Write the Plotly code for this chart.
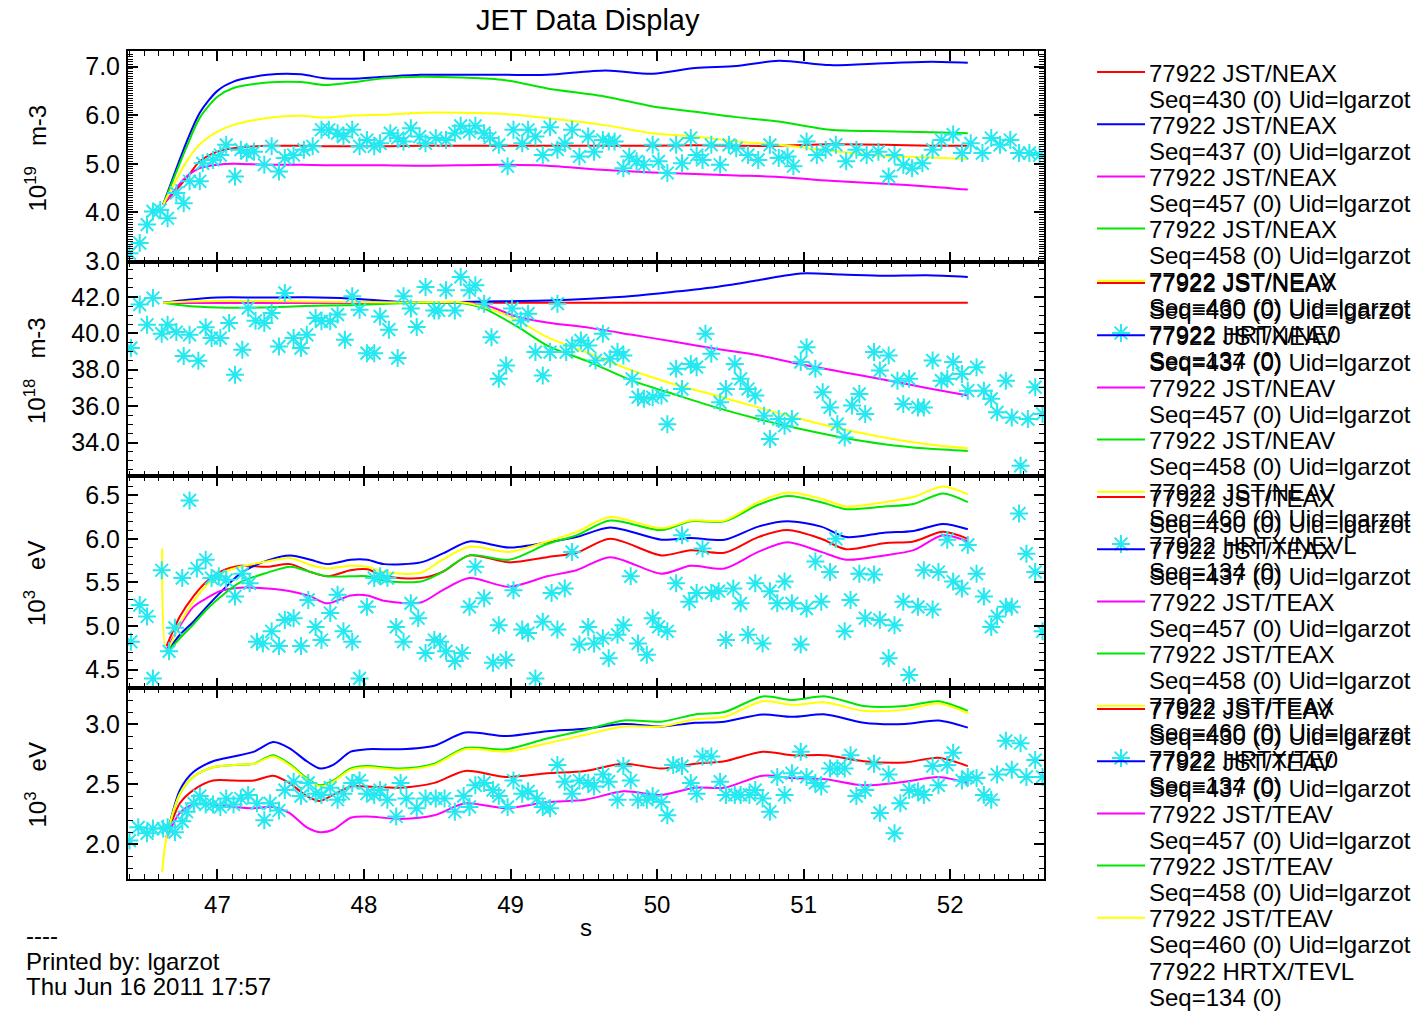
import plotly.graph_objects as go

W, H = 1417, 1012
FONT = "Liberation Sans, Arial, Helvetica, sans-serif"

# ---------------- data ----------------
# Panel 1 : JST/NEAX  (10^19 m-3)
t1 = [46.63, 46.79, 46.88, 47.0, 47.11, 47.34, 47.57, 47.73, 47.91, 48.14, 48.39,
      48.94, 49.25, 49.65, 49.97, 50.26, 50.54, 50.83, 51.18, 51.55, 51.87, 52.12]
neax_430 = [4.16, 4.71, 5.05, 5.25, 5.32, 5.37, 5.37, 5.36, 5.36, 5.36, 5.37,
            5.37, 5.37, 5.37, 5.37, 5.38, 5.37, 5.37, 5.40, 5.39, 5.37, 5.37]
neax_437 = [4.16, 5.45, 6.05, 6.50, 6.69, 6.83, 6.84, 6.76, 6.75, 6.79, 6.83,
            6.83, 6.83, 6.92, 6.85, 6.97, 7.01, 7.12, 7.03, 7.07, 7.10, 7.08]
neax_457 = [4.16, 4.74, 4.91, 4.98, 5.00, 4.98, 4.98, 4.97, 4.97, 4.97, 4.96,
            4.98, 4.96, 4.87, 4.82, 4.79, 4.76, 4.73, 4.65, 4.59, 4.53, 4.47]
neax_458 = [4.16, 5.35, 5.95, 6.38, 6.56, 6.67, 6.68, 6.62, 6.67, 6.76, 6.79,
            6.73, 6.55, 6.38, 6.18, 6.07, 5.96, 5.87, 5.70, 5.67, 5.65, 5.63]
neax_460 = [4.16, 5.05, 5.40, 5.66, 5.80, 5.94, 5.99, 5.95, 5.99, 6.01, 6.05,
            6.03, 5.94, 5.79, 5.63, 5.56, 5.46, 5.39, 5.27, 5.16, 5.13, 5.10]
ne0_t = [46.40, 46.47, 46.52, 46.56, 46.61, 46.66, 46.72, 46.77, 46.81, 46.88, 46.90, 46.97,
         47.02, 47.06, 47.12, 47.16, 47.20, 47.25, 47.32, 47.37, 47.42, 47.46, 47.52, 47.59,
         47.65, 47.71, 47.76, 47.82, 47.86, 47.92, 47.97, 48.02, 48.07, 48.11, 48.18, 48.23,
         48.27, 48.32, 48.38, 48.42, 48.49, 48.56, 48.62, 48.66, 48.72, 48.76, 48.82, 48.86,
         48.92, 48.98, 49.02, 49.08, 49.12, 49.17, 49.22, 49.27, 49.32, 49.37, 49.42, 49.47,
         49.53, 49.57, 49.63, 49.67, 49.71, 49.77, 49.81, 49.86, 49.91, 49.97, 50.01, 50.07,
         50.13, 50.17, 50.23, 50.27, 50.31, 50.37, 50.43, 50.49, 50.54, 50.62, 50.69, 50.77,
         50.83, 50.89, 50.93, 51.02, 51.09, 51.15, 51.22, 51.29, 51.36, 51.43, 51.51, 51.58,
         51.62, 51.68, 51.74, 51.81, 51.88, 51.94, 52.02, 52.08, 52.14, 52.22, 52.28, 52.34,
         52.41, 52.47, 52.54, 52.61]
ne0_v = [3.16, 3.37, 3.75, 4.02, 4.05, 3.88, 4.40, 4.19, 4.64, 4.64, 5.01, 5.08,
         5.18, 5.39, 4.74, 5.29, 5.22, 5.25, 4.98, 5.36, 4.84, 5.12, 5.18, 5.29,
         5.36, 5.70, 5.70, 5.63, 5.56, 5.70, 5.36, 5.49, 5.36, 5.42, 5.63, 5.53,
         5.46, 5.73, 5.56, 5.42, 5.53, 5.49, 5.63, 5.78, 5.66, 5.78, 5.63, 5.53,
         5.39, 4.95, 5.70, 5.42, 5.70, 5.56, 5.18, 5.75, 5.29, 5.42, 5.70, 5.15,
         5.56, 5.25, 5.49, 5.46, 5.46, 4.91, 5.15, 5.05, 4.98, 5.39, 5.05, 4.81,
         5.39, 5.01, 5.53, 5.18, 5.08, 5.39, 4.98, 5.39, 5.32, 5.18, 5.08, 5.39,
         5.12, 5.15, 4.95, 5.46, 5.18, 5.29, 5.39, 5.05, 5.29, 5.18, 5.25, 4.74,
         5.18, 4.98, 4.91, 5.01, 5.29, 5.49, 5.60, 5.22, 5.42, 5.22, 5.53, 5.39,
         5.49, 5.22, 5.22, 5.18]

# Panel 2 : JST/NEAV  (10^18 m-3)
t2 = [46.63, 46.8, 47.0, 47.3, 47.6, 47.9, 48.25, 48.5, 48.65, 48.82, 49.05,
      49.25, 49.54, 49.83, 50.11, 50.4, 50.69, 50.98, 51.26, 51.55, 51.84, 52.12]
neav_430 = [41.68] * 22
neav_437 = [41.68, 41.85, 41.97, 41.97, 41.98, 41.92, 41.72, 41.72, 41.72, 41.75, 41.77,
            41.80, 41.90, 42.05, 42.28, 42.55, 42.92, 43.29, 43.23, 43.16, 43.19, 43.10]
neav_457 = [41.68, 41.68, 41.68, 41.68, 41.68, 41.68, 41.68, 41.68, 41.68, 41.57, 40.90,
            40.60, 40.30, 39.92, 39.55, 39.15, 38.80, 38.30, 37.88, 37.45, 37.00, 36.58]
neav_458 = [41.68, 41.50, 41.42, 41.42, 41.50, 41.55, 41.65, 41.68, 41.68, 41.36, 40.35,
            39.33, 38.42, 37.40, 36.67, 35.93, 35.29, 34.74, 34.28, 33.91, 33.67, 33.54]
neav_460 = [41.68, 41.75, 41.78, 41.78, 41.75, 41.72, 41.70, 41.72, 41.72, 41.45, 40.71,
            39.79, 38.88, 37.96, 37.22, 36.58, 35.93, 35.29, 34.74, 34.28, 33.91, 33.69]
nevl_t = [46.41, 46.47, 46.52, 46.56, 46.62, 46.66, 46.72, 46.77, 46.81, 46.87, 46.92, 46.96,
          47.02, 47.08, 47.12, 47.17, 47.21, 47.26, 47.32, 47.37, 47.42, 47.46, 47.52, 47.57,
          47.61, 47.67, 47.71, 47.77, 47.82, 47.87, 47.92, 47.97, 48.02, 48.07, 48.11, 48.17,
          48.23, 48.27, 48.32, 48.36, 48.42, 48.48, 48.51, 48.56, 48.62, 48.66, 48.72, 48.76,
          48.82, 48.87, 48.92, 48.97, 49.01, 49.07, 49.12, 49.17, 49.22, 49.27, 49.32, 49.38,
          49.42, 49.48, 49.53, 49.58, 49.63, 49.68, 49.73, 49.77, 49.83, 49.87, 49.91, 49.97,
          50.03, 50.07, 50.13, 50.17, 50.23, 50.27, 50.33, 50.37, 50.43, 50.47, 50.53, 50.57,
          50.62, 50.67, 50.73, 50.77, 50.83, 50.87, 50.92, 50.98, 51.02, 51.08, 51.13, 51.18,
          51.23, 51.28, 51.33, 51.38, 51.42, 51.48, 51.52, 51.58, 51.64, 51.68, 51.72, 51.78,
          51.82, 51.88, 51.94, 51.98, 52.02, 52.08, 52.12, 52.18, 52.23, 52.28, 52.32, 52.38,
          52.42, 52.48, 52.53, 52.58, 52.63]
nevl_v = [39.19, 41.58, 40.47, 41.94, 39.98, 40.47, 40.07, 38.76, 39.92, 38.49, 40.33, 39.74,
          39.74, 40.57, 37.72, 39.10, 41.39, 40.69, 40.57, 41.12, 39.28, 42.22, 39.74, 39.19,
          39.92, 40.84, 40.66, 40.66, 41.03, 39.65, 42.04, 41.30, 38.91, 38.91, 40.93, 40.20,
          38.64, 42.04, 41.36, 40.35, 42.55, 41.26, 41.26, 42.37, 41.26, 43.10, 42.37, 42.64,
          41.63, 39.79, 37.50, 38.23, 41.36, 40.71, 41.08, 38.97, 37.68, 38.97, 41.63, 38.97,
          39.33, 39.61, 39.33, 38.51, 39.98, 38.60, 38.97, 38.78, 37.50, 36.49, 36.40, 36.49,
          36.58, 35.01, 38.05, 36.94, 38.32, 38.14, 39.98, 38.88, 36.21, 36.94, 38.32, 37.50,
          36.94, 36.58, 35.47, 34.19, 35.29, 34.92, 35.29, 38.42, 39.24, 38.05, 36.76, 35.93,
          35.01, 34.28, 36.03, 36.67, 35.57, 38.97, 37.96, 38.78, 37.40, 36.12, 37.50, 35.93,
          35.93, 38.51, 37.40, 37.50, 38.42, 37.77, 36.85, 38.14, 36.85, 36.40, 35.66, 37.40,
          35.38, 32.72, 35.29, 37.04, 35.57]

# Panel 3 : JST/TEAX  (10^3 eV)
t3 = [46.653, 46.744, 46.836, 46.927, 47.018, 47.155, 47.338, 47.498, 47.635, 47.749,
      47.909, 48.023, 48.137, 48.388, 48.535, 48.72, 48.99, 49.25, 49.45, 49.68, 50.03,
      50.23, 50.46, 50.69, 50.89, 51.12, 51.29, 51.55, 51.75, 51.95, 52.12]
teax_430 = [4.77, 5.11, 5.34, 5.51, 5.62, 5.69, 5.68, 5.71, 5.62, 5.57, 5.64, 5.65, 5.57, 5.55,
            5.62, 5.81, 5.73, 5.79, 5.84, 6.00, 5.81, 5.87, 5.84, 6.02, 6.10, 6.00, 5.88, 5.95,
            5.97, 6.08, 6.00]
teax_437 = [4.69, 4.90, 5.05, 5.22, 5.38, 5.60, 5.75, 5.81, 5.76, 5.71, 5.76, 5.76, 5.71, 5.73,
            5.83, 5.97, 5.90, 5.96, 6.02, 6.13, 5.99, 6.01, 5.99, 6.14, 6.20, 6.14, 6.02, 6.07,
            6.09, 6.17, 6.11]
teax_457 = [4.73, 5.00, 5.22, 5.32, 5.40, 5.44, 5.43, 5.40, 5.34, 5.26, 5.35, 5.35, 5.29, 5.27,
            5.41, 5.55, 5.45, 5.57, 5.64, 5.79, 5.60, 5.69, 5.66, 5.85, 5.96, 5.85, 5.76, 5.81,
            5.87, 6.04, 5.97]
teax_458 = [4.69, 4.86, 5.02, 5.19, 5.33, 5.50, 5.61, 5.68, 5.62, 5.57, 5.57, 5.57, 5.52, 5.51,
            5.62, 5.81, 5.76, 5.94, 6.04, 6.21, 6.10, 6.20, 6.20, 6.39, 6.49, 6.42, 6.34, 6.37,
            6.40, 6.52, 6.42]
t3_460 = [46.623] + t3
teax_460 = [5.89, 4.72, 5.03, 5.28, 5.47, 5.60, 5.68, 5.74, 5.78, 5.70, 5.66, 5.69, 5.68, 5.62,
            5.61, 5.76, 5.91, 5.85, 5.97, 6.08, 6.25, 6.12, 6.21, 6.21, 6.42, 6.53, 6.46, 6.37,
            6.42, 6.48, 6.60, 6.51]
te0_t = [46.41, 46.47, 46.52, 46.56, 46.62, 46.67, 46.71, 46.76, 46.81, 46.86, 46.92, 46.96,
         47.01, 47.06, 47.12, 47.17, 47.22, 47.27, 47.31, 47.37, 47.42, 47.46, 47.52, 47.57,
         47.62, 47.67, 47.71, 47.77, 47.82, 47.86, 47.92, 47.97, 48.02, 48.07, 48.11, 48.16,
         48.22, 48.27, 48.32, 48.37, 48.42, 48.48, 48.52, 48.56, 48.62, 48.67, 48.72, 48.76,
         48.82, 48.88, 48.92, 48.97, 49.02, 49.08, 49.12, 49.17, 49.22, 49.28, 49.32, 49.37,
         49.42, 49.47, 49.53, 49.57, 49.63, 49.67, 49.73, 49.77, 49.82, 49.87, 49.93, 49.97,
         50.01, 50.07, 50.13, 50.17, 50.22, 50.27, 50.31, 50.37, 50.42, 50.47, 50.52, 50.57,
         50.62, 50.67, 50.72, 50.77, 50.82, 50.87, 50.92, 50.98, 51.02, 51.08, 51.12, 51.18,
         51.22, 51.28, 51.32, 51.38, 51.42, 51.48, 51.52, 51.58, 51.62, 51.68, 51.72, 51.78,
         51.82, 51.88, 51.92, 51.98, 52.02, 52.08, 52.12, 52.18, 52.23, 52.28, 52.32, 52.38,
         52.42, 52.47, 52.52, 52.58, 52.63]
te0_v = [4.82, 5.24, 5.11, 4.40, 5.64, 4.71, 4.98, 5.55, 6.44, 5.66, 5.76, 5.55,
         5.57, 5.53, 5.34, 5.60, 5.49, 4.82, 4.80, 4.94, 4.77, 5.07, 5.09, 4.77,
         5.30, 4.99, 4.84, 5.15, 5.36, 4.94, 4.82, 4.40, 5.22, 5.55, 5.57, 5.55,
         4.99, 4.82, 5.26, 5.09, 4.69, 4.84, 4.82, 4.71, 4.60, 4.69, 5.22, 5.68,
         5.32, 4.58, 5.01, 4.61, 5.41, 4.96, 4.92, 4.40, 5.05, 5.38, 4.96, 5.43,
         5.85, 4.79, 4.99, 4.80, 4.86, 4.63, 4.90, 5.01, 5.57, 4.80, 4.67, 5.09,
         4.99, 4.94, 5.49, 6.04, 5.28, 5.38, 5.89, 5.38, 5.40, 4.84, 5.43, 5.26,
         4.90, 5.49, 4.80, 5.40, 5.26, 5.51, 5.26, 4.79, 5.20, 5.74, 5.28, 5.62,
         6.00, 4.94, 5.30, 5.60, 5.09, 5.59, 5.07, 4.63, 5.01, 5.28, 4.44, 5.22,
         5.64, 5.19, 5.62, 5.99, 5.51, 5.43, 5.93, 5.60, 5.34, 4.99, 5.11, 5.22,
         5.22, 6.29, 5.83, 5.62, 4.94]

# Panel 4 : JST/TEAV  (10^3 eV)
t4 = [46.653, 46.744, 46.836, 46.97, 47.11, 47.25, 47.38, 47.49, 47.61, 47.70, 47.79,
      47.91, 48.02, 48.25, 48.48, 48.69, 48.97, 49.25, 49.51, 49.77, 50.03, 50.26, 50.46,
      50.72, 50.92, 51.15, 51.41, 51.69, 51.92, 52.12]
teav_430 = [2.06, 2.34, 2.45, 2.53, 2.53, 2.53, 2.57, 2.51, 2.40, 2.36, 2.41, 2.48, 2.48, 2.47,
            2.51, 2.61, 2.56, 2.59, 2.61, 2.67, 2.63, 2.67, 2.69, 2.77, 2.74, 2.74, 2.69, 2.68,
            2.72, 2.65]
teav_437 = [2.06, 2.45, 2.60, 2.69, 2.73, 2.77, 2.85, 2.80, 2.69, 2.63, 2.66, 2.77, 2.79, 2.79,
            2.82, 2.93, 2.90, 2.94, 2.96, 3.00, 2.98, 3.01, 3.02, 3.08, 3.06, 3.08, 3.01, 3.00,
            3.03, 2.97]
teav_457 = [2.05, 2.26, 2.33, 2.33, 2.31, 2.30, 2.31, 2.26, 2.14, 2.10, 2.12, 2.22, 2.23, 2.21,
            2.24, 2.34, 2.30, 2.35, 2.37, 2.44, 2.41, 2.47, 2.47, 2.57, 2.55, 2.54, 2.49, 2.52,
            2.56, 2.51]
teav_458 = [2.06, 2.42, 2.56, 2.64, 2.66, 2.67, 2.74, 2.67, 2.55, 2.49, 2.53, 2.63, 2.65, 2.63,
            2.67, 2.80, 2.79, 2.88, 2.95, 3.03, 3.02, 3.08, 3.10, 3.23, 3.20, 3.23, 3.15, 3.15,
            3.19, 3.11]
t4_460 = [46.623] + t4
teav_460 = [1.77, 2.06, 2.42, 2.56, 2.64, 2.66, 2.67, 2.73, 2.66, 2.54, 2.48, 2.52, 2.62, 2.64,
            2.62, 2.66, 2.79, 2.77, 2.84, 2.91, 2.98, 2.98, 3.04, 3.06, 3.19, 3.16, 3.18, 3.11,
            3.12, 3.17, 3.09]
tevl_t = [46.40, 46.46, 46.52, 46.56, 46.63, 46.66, 46.71, 46.76, 46.79, 46.84, 46.88, 46.92,
          46.97, 47.02, 47.06, 47.11, 47.16, 47.21, 47.27, 47.32, 47.36, 47.42, 47.46, 47.52,
          47.57, 47.62, 47.67, 47.71, 47.77, 47.82, 47.86, 47.92, 47.97, 48.02, 48.07, 48.11,
          48.16, 48.22, 48.25, 48.29, 48.36, 48.42, 48.49, 48.55, 48.62, 48.68, 48.72, 48.76,
          48.82, 48.88, 48.92, 48.98, 49.02, 49.08, 49.12, 49.18, 49.22, 49.27, 49.32, 49.37,
          49.42, 49.47, 49.53, 49.57, 49.63, 49.67, 49.73, 49.77, 49.82, 49.87, 49.93, 49.97,
          50.03, 50.07, 50.11, 50.17, 50.23, 50.27, 50.31, 50.37, 50.43, 50.47, 50.53, 50.57,
          50.63, 50.67, 50.72, 50.77, 50.82, 50.87, 50.92, 50.98, 51.02, 51.08, 51.12, 51.18,
          51.23, 51.28, 51.32, 51.36, 51.42, 51.48, 51.52, 51.58, 51.62, 51.66, 51.72, 51.78,
          51.82, 51.88, 51.92, 51.98, 52.02, 52.08, 52.12, 52.18, 52.23, 52.28, 52.32, 52.38,
          52.42, 52.48, 52.52, 52.58, 52.63]
tevl_v = [2.03, 2.14, 2.09, 2.13, 2.13, 2.14, 2.10, 2.19, 2.27, 2.34, 2.40, 2.33,
          2.33, 2.31, 2.38, 2.33, 2.38, 2.41, 2.34, 2.20, 2.34, 2.28, 2.45, 2.52,
          2.40, 2.51, 2.42, 2.41, 2.47, 2.37, 2.42, 2.51, 2.53, 2.42, 2.41, 2.45,
          2.37, 2.23, 2.51, 2.38, 2.30, 2.38, 2.38, 2.38, 2.27, 2.40, 2.31, 2.49,
          2.51, 2.45, 2.40, 2.31, 2.53, 2.42, 2.44, 2.38, 2.31, 2.30, 2.66, 2.52,
          2.42, 2.53, 2.51, 2.48, 2.58, 2.52, 2.37, 2.65, 2.53, 2.37, 2.37, 2.40,
          2.35, 2.24, 2.66, 2.65, 2.51, 2.42, 2.73, 2.73, 2.52, 2.41, 2.41, 2.41,
          2.41, 2.45, 2.38, 2.27, 2.56, 2.41, 2.59, 2.77, 2.56, 2.51, 2.48, 2.63,
          2.63, 2.63, 2.74, 2.40, 2.45, 2.67, 2.26, 2.58, 2.09, 2.34, 2.45, 2.44,
          2.41, 2.65, 2.49, 2.66, 2.76, 2.53, 2.56, 2.55, 2.41, 2.37, 2.58, 2.86,
          2.62, 2.84, 2.56, 2.70, 2.56]

# axis settings per panel
y_ranges = [[2.98, 7.32], [32.16, 43.92], [4.29, 6.72], [1.71, 3.30]]
y_dticks = [1.0, 2.0, 0.5, 0.5]
y_tick0 = [3.0, 34.0, 4.5, 2.0]
y_minor = [0.05, 0.5, 0.1, 0.1]
y_titles = ["10<sup>19</sup>\u00a0\u00a0\u00a0m-3", "10<sup>18</sup>\u00a0\u00a0\u00a0m-3",
            "10<sup>3</sup>\u00a0\u00a0\u00a0eV", "10<sup>3</sup>\u00a0\u00a0\u00a0eV"]
x_range = [46.39, 52.64]

seqs = ["430", "437", "457", "458", "460"]
colors = ["#ff0000", "#0000ff", "#ff00ff", "#00e600", "#ffff00"]
cyan = "#25e8f0"
sig_names = ["JST/NEAX", "JST/NEAV", "JST/TEAX", "JST/TEAV"]
hrtx_names = ["HRTX/NE0", "HRTX/NEVL", "HRTX/TE0", "HRTX/TEVL"]

panels = [
    ([t1] * 5, [neax_430, neax_437, neax_457, neax_458, neax_460], ne0_t, ne0_v),
    ([t2] * 5, [neav_430, neav_437, neav_457, neav_458, neav_460], nevl_t, nevl_v),
    ([t3, t3, t3, t3, t3_460], [teax_430, teax_437, teax_457, teax_458, teax_460], te0_t, te0_v),
    ([t4, t4, t4, t4, t4_460], [teav_430, teav_437, teav_457, teav_458, teav_460], tevl_t, tevl_v),
]

# ---------------- layout geometry (pixels from top-left) ----------------
PX_L, PX_R = 128, 1044
panel_px = [(51, 262), (262, 476), (476, 688), (688, 879)]


def py(p):
    return 1 - p / H


def px(p):
    return p / W


fig = go.Figure()

for k, (ts, ys, st, sv) in enumerate(panels):
    sfx = "" if k == 0 else str(k + 1)
    for j in range(5):
        fig.add_trace(go.Scatter(x=ts[j], y=ys[j], mode="lines",
                                 line=dict(color=colors[j], width=2, shape="spline", smoothing=0.8),
                                 xaxis="x" + sfx, yaxis="y" + sfx, showlegend=False,
                                 hoverinfo="skip"))
    fig.add_trace(go.Scatter(x=st, y=sv, mode="markers",
                             marker=dict(symbol="asterisk-open", size=15, color=cyan,
                                         line=dict(color=cyan, width=2)),
                             xaxis="x" + sfx, yaxis="y" + sfx, showlegend=False,
                             hoverinfo="skip"))

layout = dict(
    template="none",
    width=W, height=H, autosize=False,
    margin=dict(l=0, r=0, t=0, b=0, pad=0, autoexpand=False),
    paper_bgcolor="white", plot_bgcolor="rgba(0,0,0,0)",
    font=dict(family=FONT, color="black", size=24),
    showlegend=False,
)

for k in range(4):
    sfx = "" if k == 0 else str(k + 1)
    top, bot = panel_px[k]
    layout["xaxis" + sfx] = dict(
        domain=[px(PX_L), px(PX_R)], range=x_range, anchor="y" + sfx, automargin=False,
        showline=True, linecolor="black", linewidth=2, mirror="allticks",
        ticks="inside", ticklen=10, tickwidth=1.5, tickcolor="black",
        tick0=47, dtick=1, showgrid=False, zeroline=False,
        showticklabels=(k == 3), tickfont=dict(size=24, family=FONT, color="black"),
        ticklabelstandoff=3,
        minor=dict(ticks="inside", ticklen=5, tickwidth=1.2, tickcolor="black", dtick=0.1,
                   showgrid=False),
        **({} if k == 0 else {"matches": "x"}),
    )
    layout["yaxis" + sfx] = dict(
        domain=[py(bot), py(top)], range=y_ranges[k], anchor="x" + sfx, automargin=False,
        showline=True, linecolor="black", linewidth=2, mirror="allticks",
        ticks="inside", ticklen=10, tickwidth=1.5, tickcolor="black",
        tick0=y_tick0[k], dtick=y_dticks[k], tickformat=".1f",
        showgrid=False, zeroline=False, tickfont=dict(size=25, family=FONT, color="black"),
        ticklabelstandoff=1,
        minor=dict(ticks="inside", ticklen=5, tickwidth=1.2, tickcolor="black",
                   dtick=y_minor[k], showgrid=False),
    )

# overlay axis covering whole figure in pixel units (for legend symbols)
layout["xaxis5"] = dict(domain=[0, 1], range=[0, W], visible=False, anchor="y5",
                        fixedrange=True, automargin=False)
layout["yaxis5"] = dict(domain=[0, 1], range=[H, 0], visible=False, anchor="x5",
                        fixedrange=True, automargin=False)

annotations = []
shapes = []

annotations.append(dict(text="JET Data Display", x=px(588), y=py(20), xref="paper", yref="paper",
                        showarrow=False, xanchor="center", yanchor="middle",
                        font=dict(size=29, family=FONT)))
annotations.append(dict(text="s", x=px(586), y=py(927), xref="paper", yref="paper",
                        showarrow=False, xanchor="center", yanchor="middle",
                        font=dict(size=24, family=FONT)))
for txt, yy in [("----", 935), ("Printed by: lgarzot", 961), ("Thu Jun 16 2011 17:57", 986)]:
    annotations.append(dict(text=txt, x=px(24), y=py(yy), xref="paper", yref="paper",
                            showarrow=False, xanchor="left", yanchor="middle",
                            font=dict(size=24, family=FONT)))

for k in range(4):
    top, bot = panel_px[k]
    annotations.append(dict(text=y_titles[k], x=px(35), y=py((top + bot) / 2 + 2),
                            xref="paper", yref="paper", showarrow=False, textangle=-90,
                            xanchor="center", yanchor="middle",
                            font=dict(size=24, family=FONT)))

# legend (over-printed, one block per panel)
LS = 26.1
star_x, star_y = [], []
for k in range(4):
    base = panel_px[k][0] + 21
    entries = [("77922 " + sig_names[k], "Seq=%s (0) Uid=lgarzot" % s, colors[j])
               for j, s in enumerate(seqs)]
    entries.append(("77922 " + hrtx_names[k], "Seq=134 (0)", None))
    for j, (name, seq, col) in enumerate(entries):
        yn = base + LS * 2 * j
        ys_ = yn + LS
        if col is not None:
            shapes.append(dict(type="line", xref="paper", yref="paper",
                               x0=px(1097), x1=px(1145), y0=py(yn), y1=py(yn),
                               line=dict(color=col, width=2)))
        elif k < 3:
            star_x.append(1121)
            star_y.append(yn)
        annotations.append(dict(text=name, x=px(1147), y=py(yn + 1), xref="paper", yref="paper",
                                showarrow=False, xanchor="left", yanchor="middle",
                                font=dict(size=24, family=FONT)))
        annotations.append(dict(text=seq, x=px(1147), y=py(ys_ + 1), xref="paper", yref="paper",
                                showarrow=False, xanchor="left", yanchor="middle",
                                font=dict(size=24, family=FONT)))

fig.add_trace(go.Scatter(x=star_x, y=star_y, mode="markers", xaxis="x5", yaxis="y5",
                         marker=dict(symbol="asterisk-open", size=15, color=cyan,
                                     line=dict(color=cyan, width=2)),
                         showlegend=False, hoverinfo="skip", cliponaxis=False))

layout["annotations"] = annotations
layout["shapes"] = shapes
fig.update_layout(**layout)
fig.write_html("out.html")
